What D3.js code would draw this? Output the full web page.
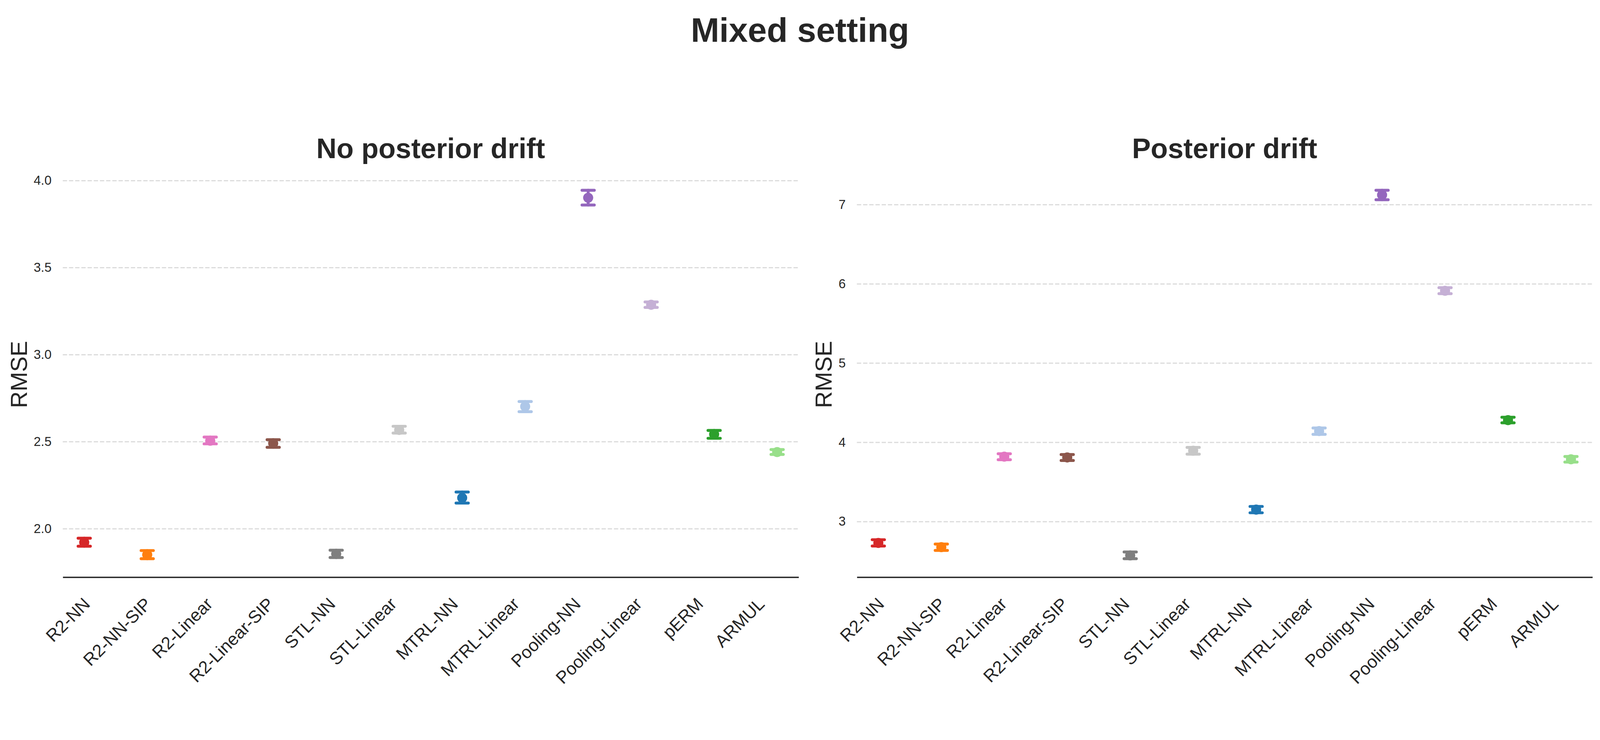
<!DOCTYPE html>
<html lang="en">
<head>
    <meta charset="utf-8">
    <title>Mixed setting</title>
    <script src="https://cdn.jsdelivr.net/npm/d3@7"></script>
    <style>
        html, body { margin: 0; padding: 0; background: #fff; overflow: hidden; }
        svg { display: block; }
        text { font-family: "Liberation Sans", Arial, sans-serif; fill: #262626; }
    </style>
</head>
<body>
<script>
    // methods, in plotting order, and their colours
    var methods = ["R2-NN", "R2-NN-SIP", "R2-Linear", "R2-Linear-SIP", "STL-NN", "STL-Linear",
                   "MTRL-NN", "MTRL-Linear", "Pooling-NN", "Pooling-Linear", "pERM", "ARMUL"];
    var colors = ["#d62728", "#ff7f0e", "#e377c2", "#8c564b", "#7f7f7f", "#c7c7c7",
                  "#1f77b4", "#aec7e8", "#9467bd", "#c5b0d5", "#2ca02c", "#98df8a"];

    // no posterior drift: mean RMSE and error bar ends
    var noDriftMean = [1.921, 1.850, 2.505, 2.490, 1.855, 2.567, 2.177, 2.702, 3.901, 3.286, 2.542, 2.440];
    var noDriftLo   = [1.899, 1.827, 2.487, 2.467, 1.834, 2.549, 2.147, 2.672, 3.859, 3.271, 2.519, 2.426];
    var noDriftHi   = [1.945, 1.874, 2.526, 2.511, 1.876, 2.588, 2.210, 2.730, 3.944, 3.302, 2.564, 2.454];
    var noDriftTicks = [2.0, 2.5, 3.0, 3.5, 4.0];

    // posterior drift
    var driftMean = [2.729, 2.676, 3.818, 3.808, 2.572, 3.893, 3.150, 4.141, 7.121, 5.911, 4.279, 3.785];
    var driftLo   = [2.690, 2.635, 3.780, 3.770, 2.530, 3.850, 3.110, 4.100, 7.060, 5.875, 4.245, 3.750];
    var driftHi   = [2.770, 2.715, 3.855, 3.845, 2.615, 3.935, 3.190, 4.180, 7.180, 5.950, 4.315, 3.820];
    var driftTicks = [3, 4, 5, 6, 7];

    // layout is given for a 5710x1895 figure and stretched to the real window
    var W = 5710, H = 1895;
    var vw = window.innerWidth || W, vh = window.innerHeight || H;
    var sx = vw / W, sy = vh / H;
    var fs = sx;                     // text and stroke sizes follow the width
    var plotTop = 440 * sy, plotBottom = 1478 * sy;   // "top" is taken by window.top

    var svg = d3.select("body").append("svg")
        .attr("width", vw)
        .attr("height", vh);

    svg.append("rect").attr("width", vw).attr("height", vh).attr("fill", "#fff");

    // text placed by the middle of its capitals
    function capBaseline(mid, size) { return mid + 0.358 * size; }

    svg.append("text")
        .attr("x", 2855 * sx)
        .attr("y", capBaseline(75.5 * sy, 122 * fs))
        .attr("text-anchor", "middle")
        .attr("font-size", 122 * fs + "px")
        .attr("font-weight", "bold")
        .text("Mixed setting");

    function drawPanel(left, right, title, mean, lo, hi, ticks, fmt, labelMid) {
        var g = svg.append("g");
        left = left * sx;
        right = right * sx;

        var x = d3.scaleLinear().domain([-0.5, methods.length - 0.5]).range([left, right]);

        // matplotlib-like 5% margins around the error bars
        var ymin = d3.min(lo), ymax = d3.max(hi);
        var pad = (ymax - ymin) * 0.05;
        var y = d3.scaleLinear().domain([ymin - pad, ymax + pad]).range([plotBottom, plotTop]);

        // seaborn dodge: .025 * number of hue levels
        var dodge = 0.025 * methods.length;
        function px(i) {
            return x(i - dodge / 2 + i * dodge / (methods.length - 1));
        }

        // grid
        g.append("g")
            .attr("transform", "translate(" + left + ",0)")
            .call(d3.axisLeft(y).tickValues(ticks).tickSize(-(right - left)).tickFormat(""))
            .call(function(s) {
                s.select(".domain").remove();
                s.selectAll("line")
                    .attr("stroke", "#dbdbdb")
                    .attr("stroke-width", 4.2 * fs)
                    .attr("stroke-dasharray", (15.4 * fs) + "," + (6.7 * fs));
            });

        // y tick labels
        g.append("g")
            .attr("transform", "translate(" + left + ",0)")
            .call(d3.axisLeft(y).tickValues(ticks).tickSize(0).tickPadding(40 * fs).tickFormat(d3.format(fmt)))
            .call(function(s) {
                s.select(".domain").remove();
                s.selectAll("text")
                    .attr("font-size", 45.8 * fs + "px")
                    .attr("font-family", "Liberation Sans, Arial, sans-serif")
                    .attr("fill", "#262626");
            });

        // x axis
        g.append("g")
            .attr("transform", "translate(0," + plotBottom + ")")
            .call(d3.axisBottom(x).tickValues(d3.range(methods.length)).tickSize(0).tickSizeOuter(0)
                .tickFormat(function(i) { return methods[i]; }))
            .call(function(s) {
                s.select(".domain").attr("stroke", "#262626").attr("stroke-width", 5 * fs);
                s.selectAll("text")
                    .attr("y", null)
                    .attr("dy", null)
                    .attr("text-anchor", "end")
                    .attr("transform", "translate(" + (-9 * fs) + "," + (50 * sy + 30 * fs) + ") rotate(-45)")
                    .attr("font-size", 62.5 * fs + "px")
                    .attr("font-family", "Liberation Sans, Arial, sans-serif")
                    .attr("fill", "#262626");
            });

        // error bars
        var idx = d3.range(methods.length);
        var capHalf = 0.1 * (x(1) - x(0));

        g.selectAll(".ebar")
            .data(idx)
            .enter()
            .append("line")
            .attr("x1", function(i) { return px(i); })
            .attr("x2", function(i) { return px(i); })
            .attr("y1", function(i) { return y(lo[i]); })
            .attr("y2", function(i) { return y(hi[i]); })
            .attr("stroke", function(i) { return colors[i]; })
            .attr("stroke-width", 10.4 * fs)
            .attr("stroke-linecap", "round");

        [lo, hi].forEach(function(arr) {
            g.selectAll(null)
                .data(idx)
                .enter()
                .append("line")
                .attr("x1", function(i) { return px(i) - capHalf; })
                .attr("x2", function(i) { return px(i) + capHalf; })
                .attr("y1", function(i) { return y(arr[i]); })
                .attr("y2", function(i) { return y(arr[i]); })
                .attr("stroke", function(i) { return colors[i]; })
                .attr("stroke-width", 10.4 * fs)
                .attr("stroke-linecap", "round");
        });

        g.selectAll("circle")
            .data(idx)
            .enter()
            .append("circle")
            .attr("cx", function(i) { return px(i); })
            .attr("cy", function(i) { return y(mean[i]); })
            .attr("r", 18 * fs)
            .attr("fill", function(i) { return colors[i]; });

        // titles
        g.append("text")
            .attr("x", (left + right) / 2)
            .attr("y", capBaseline(379 * sy, 100 * fs))
            .attr("text-anchor", "middle")
            .attr("font-size", 100 * fs + "px")
            .attr("font-weight", "bold")
            .text(title);

        // rotated: capitals sit to the left of the baseline
        g.append("text")
            .attr("transform", "translate(" + capBaseline(labelMid * sx, 83 * fs) + "," + (plotTop + plotBottom) / 2 + ") rotate(-90)")
            .attr("text-anchor", "middle")
            .attr("font-size", 83 * fs + "px")
            .text("RMSE");
    }

    drawPanel(224, 2850, "No posterior drift", noDriftMean, noDriftLo, noDriftHi, noDriftTicks, ".1f", 66);
    drawPanel(3058, 5683, "Posterior drift", driftMean, driftLo, driftHi, driftTicks, "d", 2938);
</script>
</body>
</html>
